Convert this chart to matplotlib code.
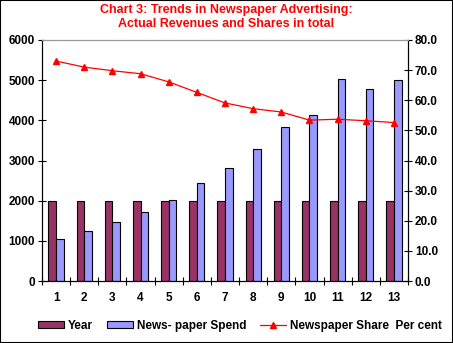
import numpy as np
import matplotlib.pyplot as plt
from matplotlib.lines import Line2D
from matplotlib.patches import Patch, Rectangle

categories = list(range(1, 14))
year = [1990, 1991, 1992, 1993, 1994, 1995, 1996, 1997, 1998, 1999, 2000, 2001, 2002]
spend = [1047, 1240, 1464, 1728, 2020, 2451, 2810, 3276, 3824, 4123, 5020, 4771, 4995]
share = [73.0, 71.0, 69.8, 68.8, 66.1, 62.6, 59.1, 57.2, 56.1, 53.4, 53.7, 53.2, 52.6]

plt.rcParams["font.family"] = ["Liberation Sans", "DejaVu Sans"]
plt.rcParams["font.weight"] = "bold"

fig = plt.figure(figsize=(4.53, 3.43), dpi=100)
ax = fig.add_axes([42 / 453, 1 - 281 / 343, (408 - 42) / 453, (281 - 40) / 343])
ax2 = ax.twinx()

x = np.array(categories)
w = 0.27
ax.bar(x - w / 2, year, w, color="#993366", edgecolor="black", linewidth=0.8, zorder=2)
ax.bar(x + w / 2, spend, w, color="#9999FF", edgecolor="black", linewidth=0.8, zorder=2)
ax2.plot(x, share, color="#FF0000", marker="^", markersize=5, linewidth=0.9)

ax.set_xlim(0.5, 13.5)
ax.set_ylim(0, 6000)
ax.set_yticks(range(0, 6001, 1000))
ax2.set_ylim(0, 80)
ax2.set_yticks(range(0, 81, 10))
ax2.set_yticklabels([f"{v:.1f}" for v in range(0, 81, 10)])

ax.set_xticks(np.arange(0.5, 13.6, 1))
ax.set_xticklabels([])
ax.set_xticks(x, minor=True)
ax.set_xticklabels([str(c) for c in categories], minor=True)
ax.tick_params(axis="x", which="major", direction="inout", length=6, width=0.8)
ax.tick_params(axis="x", which="minor", length=0, pad=8, labelsize=8.5)
ax.tick_params(axis="y", direction="inout", length=6, width=0.8, labelsize=8.5, pad=2)
ax2.tick_params(axis="y", direction="inout", length=6, width=0.8, labelsize=8.5, pad=2)

for a in (ax, ax2):
    a.spines["top"].set_color("#999999")
    a.spines["left"].set_linewidth(0.8)
    a.spines["right"].set_linewidth(0.8)
    a.spines["bottom"].set_linewidth(0.8)

fig.text(0.5, 1 - 17 / 343, "Chart 3: Trends in Newspaper Advertising:\nActual Revenues and Shares in total",
         ha="center", va="center", color="#FF0000", fontsize=9, fontweight="bold", linespacing=1.15)

handles = [
    Patch(facecolor="#993366", edgecolor="black", linewidth=0.8),
    Patch(facecolor="#9999FF", edgecolor="black", linewidth=0.8),
    Line2D([], [], color="#FF0000", marker="^", markersize=4, linewidth=0.9),
]
labels = ["Year", "News- paper Spend", "Newspaper Share  Per cent"]
fig.legend(handles, labels, loc="center", bbox_to_anchor=(0.53, 1 - 326 / 343), ncol=3,
           frameon=False, fontsize=8.5, handlelength=2.2, handleheight=0.5,
           handletextpad=0.3, columnspacing=1.2)

fig.patches.append(Rectangle((0, 0), 1, 1, transform=fig.transFigure, fill=False,
                             edgecolor="black", linewidth=1.5))

fig.savefig("out.png", dpi=100)
